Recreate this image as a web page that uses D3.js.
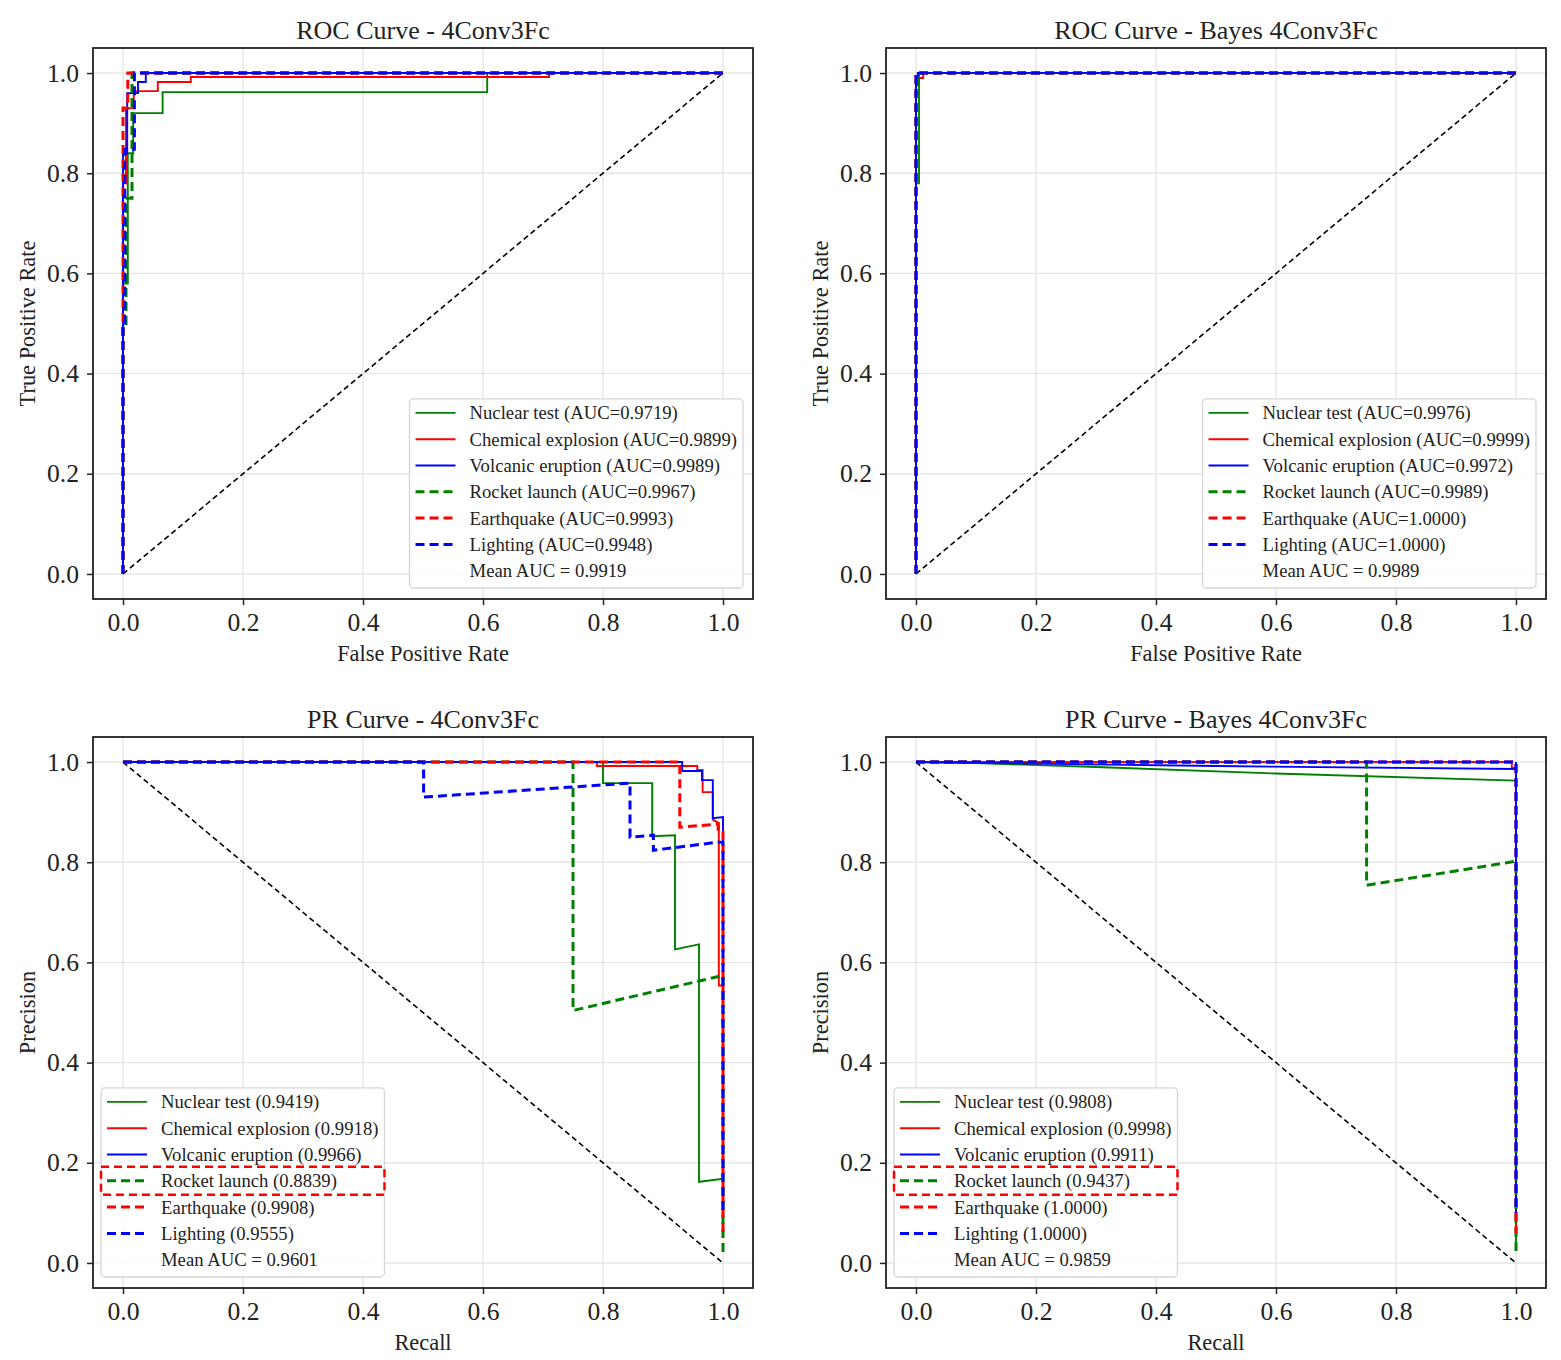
<!DOCTYPE html>
<html>
<head>
<meta charset="utf-8">
<script src="https://cdn.jsdelivr.net/npm/d3@7"></script>
<style>
body { margin: 0; background: #fff; }
text { font-family: "Liberation Serif", "DejaVu Serif", serif; fill: #222; }
</style>
</head>
<body>
<svg id="chart"></svg>
<script>
var classNames = ["Nuclear test", "Chemical explosion", "Volcanic eruption", "Rocket launch", "Earthquake", "Lighting"];
var tickValues = [0, 0.2, 0.4, 0.6, 0.8, 1.0];

// ROC curves, 4Conv3Fc  (fpr, tpr)
var rocBaseCurves = [
  [[0,0],[0,0.58],[0.008,0.58],[0.008,0.84],[0.017,0.84],[0.017,0.92],[0.066,0.92],[0.066,0.962],[0.607,0.962],[0.607,1],[1,1]],
  [[0,0],[0,0.78],[0.005,0.78],[0.005,0.93],[0.018,0.93],[0.018,0.964],[0.058,0.964],[0.058,0.982],[0.113,0.982],[0.113,0.992],[0.71,0.992],[0.71,1],[1,1]],
  [[0,0],[0,0.84],[0.007,0.84],[0.007,0.96],[0.025,0.96],[0.025,0.982],[0.038,0.982],[0.038,1],[1,1]],
  [[0,0],[0,0.5],[0.005,0.5],[0.005,0.75],[0.015,0.75],[0.015,1],[1,1]],
  [[0,0],[0,0.93],[0.008,0.93],[0.008,1],[1,1]],
  [[0,0],[0,0.5],[0.003,0.5],[0.003,0.848],[0.019,0.848],[0.019,1],[1,1]]
];
var rocBaseAuc = [0.9719, 0.9899, 0.9989, 0.9967, 0.9993, 0.9948];
var rocBaseMean = 0.9919;

// ROC curves, Bayes 4Conv3Fc
var rocBayesCurves = [
  [[0,0],[0,0.78],[0.005,0.78],[0.005,1],[1,1]],
  [[0,0],[0,0.99],[0.012,0.99],[0.012,1],[1,1]],
  [[0,0],[0,0.98],[0.003,0.98],[0.003,1],[1,1]],
  [[0,0],[0,0.96],[0.004,0.96],[0.004,1],[1,1]],
  [[0,0],[0,1],[1,1]],
  [[0,0],[0,1],[1,1]]
];
var rocBayesAuc = [0.9976, 0.9999, 0.9972, 0.9989, 1.0000, 1.0000];
var rocBayesMean = 0.9989;

// PR curves, 4Conv3Fc  (recall, precision)
var prBaseCurves = [
  [[0,1],[0.8,1],[0.8,0.958],[0.882,0.958],[0.882,0.852],[0.92,0.854],[0.92,0.626],[0.96,0.636],[0.96,0.162],[1,0.168],[1,0.05]],
  [[0,1],[0.79,1],[0.79,0.992],[0.957,0.992],[0.957,0.984],[0.966,0.984],[0.966,0.94],[0.983,0.94],[0.983,0.885],[0.993,0.878],[0.993,0.554],[1,0.554],[1,0.06]],
  [[0,1],[0.932,1],[0.932,0.982],[0.965,0.982],[0.965,0.964],[0.983,0.964],[0.983,0.888],[1,0.89],[1,0.1]],
  [[0,1],[0.75,1],[0.75,0.504],[1,0.574],[1,0.02]],
  [[0,1],[0.928,1],[0.928,0.87],[0.992,0.876],[0.992,0.86],[1,0.86],[1,0.06]],
  [[0,1],[0.501,1],[0.501,0.93],[0.845,0.958],[0.845,0.85],[0.884,0.854],[0.884,0.824],[0.992,0.84],[1,0.84],[1,0.1]]
];
var prBaseAuc = [0.9419, 0.9918, 0.9966, 0.8839, 0.9908, 0.9555];
var prBaseMean = 0.9601;

// PR curves, Bayes 4Conv3Fc
var prBayesCurves = [
  [[0,1],[0.1,0.998],[0.3,0.99],[0.6,0.977],[1,0.963],[1,0.03]],
  [[0,1],[0.993,1],[0.993,0.988],[1,0.988],[1,0.06]],
  [[0,1],[0.5,0.992],[1,0.986],[1,1],[1,0.1]],
  [[0,1],[0.751,1],[0.751,0.754],[1,0.802],[1,0.02]],
  [[0,1],[1,1],[1,0.06]],
  [[0,1],[1,1],[1,0.1]]
];
var prBayesAuc = [0.9808, 0.9998, 0.9911, 0.9437, 1.0000, 1.0000];
var prBayesMean = 0.9859;

var svgWidth = 1561;
var svgHeight = 1360;

var svg = d3.select("#chart")
    .attr("width", svgWidth)
    .attr("height", svgHeight);

var lineColors = ["green", "red", "blue", "green", "red", "blue"];

var panels = [
  {title: "ROC Curve - 4Conv3Fc", kind: "roc", left: 93, top: 48, curves: rocBaseCurves, auc: rocBaseAuc, mean: rocBaseMean},
  {title: "ROC Curve - Bayes 4Conv3Fc", kind: "roc", left: 886, top: 48, curves: rocBayesCurves, auc: rocBayesAuc, mean: rocBayesMean},
  {title: "PR Curve - 4Conv3Fc", kind: "pr", left: 93, top: 737, curves: prBaseCurves, auc: prBaseAuc, mean: prBaseMean},
  {title: "PR Curve - Bayes 4Conv3Fc", kind: "pr", left: 886, top: 737, curves: prBayesCurves, auc: prBayesAuc, mean: prBayesMean}
];

var plotW = 660;
var plotH = 551;

panels.forEach(function(p) {
  var g = svg.append("g");
  var x = d3.scaleLinear().domain([-0.05, 1.05]).range([p.left, p.left + plotW]);
  var y = d3.scaleLinear().domain([-0.05, 1.05]).range([p.top + plotH, p.top]);

  // grid
  g.selectAll(".gx").data(tickValues).enter().append("line")
    .attr("x1", function(d) { return x(d); }).attr("x2", function(d) { return x(d); })
    .attr("y1", p.top).attr("y2", p.top + plotH)
    .attr("stroke", "#e6e6e6").attr("stroke-width", 1.4);
  g.selectAll(".gy").data(tickValues).enter().append("line")
    .attr("y1", function(d) { return y(d); }).attr("y2", function(d) { return y(d); })
    .attr("x1", p.left).attr("x2", p.left + plotW)
    .attr("stroke", "#e6e6e6").attr("stroke-width", 1.4);

  // diagonal reference
  var diag = p.kind == "roc" ? [[0, 0], [1, 1]] : [[0, 1], [1, 0]];
  var line = d3.line().x(function(d) { return x(d[0]); }).y(function(d) { return y(d[1]); });
  g.append("path").attr("d", line(diag))
    .attr("fill", "none").attr("stroke", "black")
    .attr("stroke-width", 1.6).attr("stroke-dasharray", "5.5,3.5");

  // curves
  p.curves.forEach(function(c, i) {
    var dashed = i >= 3;
    g.append("path").attr("d", line(c))
      .attr("fill", "none")
      .attr("stroke", lineColors[i])
      .attr("stroke-width", dashed ? 3 : 1.9)
      .attr("stroke-dasharray", dashed ? "9,5" : null);
  });

  // frame
  g.append("rect").attr("x", p.left).attr("y", p.top).attr("width", plotW).attr("height", plotH)
    .attr("fill", "none").attr("stroke", "#222").attr("stroke-width", 1.8);

  // axes
  var xAxis = d3.axisBottom(x).tickValues(tickValues).tickFormat(d3.format(".1f")).tickSize(6).tickPadding(8);
  var yAxis = d3.axisLeft(y).tickValues(tickValues).tickFormat(d3.format(".1f")).tickSize(6).tickPadding(8);
  var ax = g.append("g").attr("transform", "translate(0," + (p.top + plotH) + ")").call(xAxis);
  var ay = g.append("g").attr("transform", "translate(" + p.left + ",0)").call(yAxis);
  [ax, ay].forEach(function(a) {
    a.select(".domain").remove();
    a.selectAll(".tick line").attr("stroke", "#222").attr("stroke-width", 1.5);
    a.selectAll(".tick text").attr("font-family", "Liberation Serif").attr("font-size", "25.6px").attr("fill", "#222");
  });

  // titles and labels
  g.append("text").text(p.title)
    .attr("x", p.left + plotW / 2).attr("y", p.top - 9)
    .attr("text-anchor", "middle").attr("font-size", "26px");
  g.append("text").text(p.kind == "roc" ? "False Positive Rate" : "Recall")
    .attr("x", p.left + plotW / 2).attr("y", p.top + plotH + 62)
    .attr("text-anchor", "middle").attr("font-size", "22.4px");
  g.append("text").text(p.kind == "roc" ? "True Positive Rate" : "Precision")
    .attr("transform", "translate(" + (p.left - 58) + "," + (p.top + plotH / 2) + ") rotate(-90)")
    .attr("text-anchor", "middle").attr("font-size", "22.4px");

  // legend
  var labels = classNames.map(function(n, i) {
    return p.kind == "roc" ? n + " (AUC=" + p.auc[i].toFixed(4) + ")" : n + " (" + p.auc[i].toFixed(4) + ")";
  });
  labels.push("Mean AUC = " + p.mean.toFixed(4));

  var lg = g.append("g");
  var rowH = 26.3;
  var texts = lg.selectAll("text").data(labels).enter().append("text")
    .text(function(d) { return d; })
    .attr("font-size", "18.7px")
    .attr("dy", "0.35em");
  var maxW = 0;
  texts.each(function() { maxW = Math.max(maxW, this.getComputedTextLength()); });
  var boxW = 60 + maxW + 6;
  var boxH = rowH * 7 + 5;
  var boxX = p.kind == "roc" ? p.left + plotW - 10 - boxW : p.left + 8;
  var boxY = p.top + plotH - 11 - boxH;

  lg.insert("rect", "text")
    .attr("x", boxX).attr("y", boxY).attr("width", boxW).attr("height", boxH)
    .attr("rx", 4).attr("fill", "white").attr("fill-opacity", 0.85)
    .attr("stroke", "#d6d6d6").attr("stroke-width", 1.3);
  texts.attr("x", boxX + 60).attr("y", function(d, i) { return boxY + 14 + rowH * i; });
  classNames.forEach(function(n, i) {
    var yy = boxY + 14 + rowH * i;
    lg.append("line")
      .attr("x1", boxX + 6).attr("x2", boxX + 46)
      .attr("y1", yy).attr("y2", yy)
      .attr("stroke", lineColors[i])
      .attr("stroke-width", i >= 3 ? 3 : 1.9)
      .attr("stroke-dasharray", i >= 3 ? "9,5" : null);
  });

  // highlight around the Rocket launch entry in the PR panels
  if (p.kind == "pr") {
    var hy = boxY + 14 + rowH * 3;
    lg.append("rect")
      .attr("x", boxX).attr("y", hy - 14).attr("width", boxW).attr("height", 28)
      .attr("fill", "none").attr("stroke", "red")
      .attr("stroke-width", 2.5).attr("stroke-dasharray", "8,5");
  }
});
</script>
</body>
</html>
